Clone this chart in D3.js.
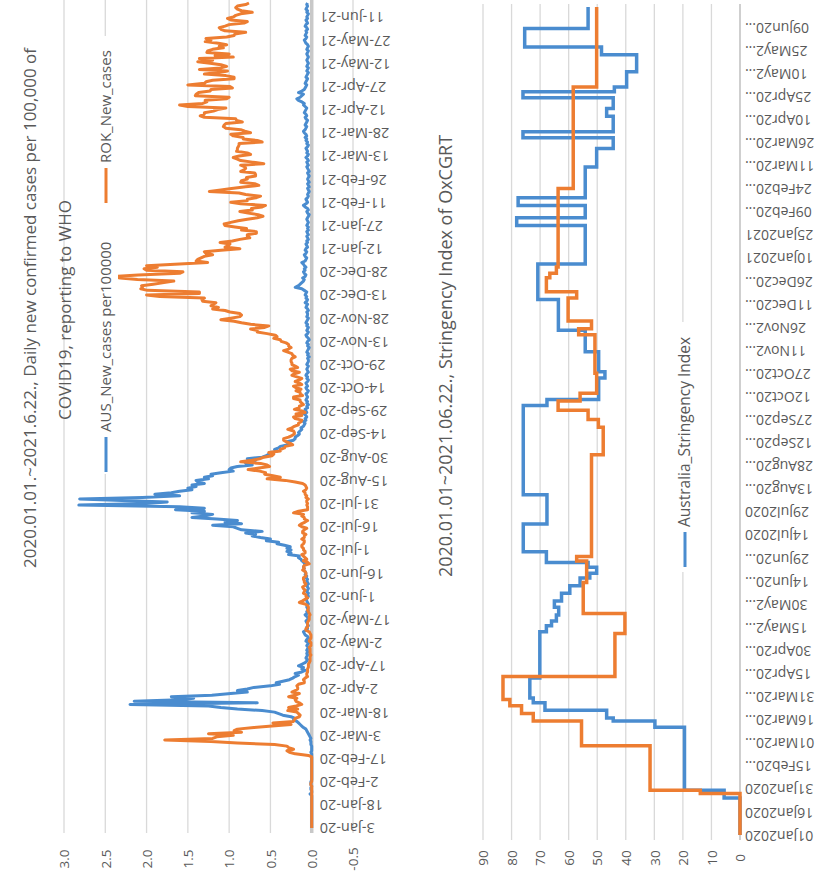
<!DOCTYPE html>
<html>
<head>
<meta charset="utf-8">
<script src="https://cdn.jsdelivr.net/npm/d3@7"></script>
<style>
body { margin: 0; background: #fff; }
text { font-family: "Open Sans", "Noto Sans", sans-serif; fill: #595959; }
</style>
</head>
<body>
<svg id="chart" width="835" height="880"></svg>
<script>
// Daily new cases per 100,000 (WHO), one value per day from 3-Jan-2020
var ausCases = [
  0,0,0,0,0,0,0,0,0,0, 0,0,0,0,0,0,0,0,0,0, 0,0,0.02,0,0,0.01,0.01,0,0.01,
  0.01,0.01,0,0,0,0,0,0,0,0, 0,0,0,0,0,0,0,0,0,0, 0.01,0,0,0,0,0.01,0.01,0.01,0.02,
  0.01,0.02,0.03,0.04,0.05,0.06,0.07,0.1,0.12,0.14, 0.16,0.18,0.22,0.2,0.25,0.35,0.4,0.45,0.6,0.9, 1.1,1.25,2.2,0.66,2.15,1.6,1.43,1.7,1.21,0.98, 0.78,
  0.9,0.78,0.7,0.5,0.39,0.43,0.35,0.27,0.23,0.2, 0.16,0.2,0.12,0.08,0.12,0.1,0.16,0.12,0.08,0.06, 0.05,0.07,0.06,0.05,0.06,0.04,0.06,0.05,0.04,0.06,
  0.05,0.03,0.07,0.06,0.04,0.05,0.08,0.09,0.1,0.07, 0.05,0.06,0.04,0.05,0.06,0.07,0.05,0.04,0.06,0.08, 0.05,0.06,0.04,0.05,0.06,0.05,0.04,0.05,0.06,0.07, 0.05,
  0.04,0.05,0.04,0.06,0.05,0.04,0.05,0.06,0.04,0.05, 0.06,0.05,0.07,0.06,0.08,0.07,0.08,0.1,0.09,0.1, 0.09,0.08,0.1,0.12,0.13,0.16,0.15,0.28,0.25,0.3,
  0.25,0.3,0.26,0.33,0.42,0.4,0.55,0.5,0.62,0.72, 0.68,0.8,0.6,0.85,0.9,0.95,1.2,0.85,1.05,0.9, 1.15,1.45,1.3,1.2,1.45,1.3,1.65,1.3,1.6,2.82, 2.0,
  1.75,2.3,2.81,2.05,1.6,1.9,1.7,1.6,1.45,1.5, 1.4,1.45,1.3,1.38,1.4,1.25,1.3,1.2,1.22,1.1, 0.95,1.0,0.98,0.9,0.72,0.8,0.75,0.68,0.78,0.6, 0.55,
  0.52,0.5,0.42,0.45,0.4,0.38,0.3,0.28,0.3,0.22, 0.2,0.2,0.17,0.15,0.16,0.14,0.12,0.13,0.1,0.09, 0.08,0.1,0.07,0.08,0.06,0.07,0.09,0.06,0.07,0.08,
  0.05,0.06,0.04,0.06,0.05,0.07,0.06,0.05,0.06,0.07, 0.05,0.04,0.06,0.07,0.05,0.06,0.07,0.05,0.04,0.06, 0.05,0.07,0.06,0.04,0.05,0.06,0.05,0.04,0.06,0.05, 0.04,
  0.04,0.05,0.03,0.05,0.04,0.06,0.05,0.04,0.03,0.05, 0.04,0.06,0.05,0.03,0.04,0.06,0.07,0.05,0.04,0.06, 0.05,0.04,0.06,0.05,0.07,0.06,0.05,0.04,0.06,0.05,
  0.05,0.06,0.04,0.05,0.07,0.06,0.05,0.08,0.06,0.05, 0.07,0.06,0.08,0.07,0.06,0.09,0.12,0.2,0.16,0.14, 0.12,0.1,0.09,0.11,0.08,0.07,0.09,0.1,0.08,0.09, 0.07,
  0.09,0.1,0.12,0.08,0.07,0.06,0.08,0.09,0.07,0.06, 0.08,0.07,0.05,0.06,0.07,0.05,0.06,0.04,0.05,0.06, 0.04,0.05,0.06,0.04,0.05,0.04,0.06,0.05,0.04,0.05, 0.06,
  0.05,0.04,0.03,0.05,0.06,0.04,0.05,0.08,0.1,0.07, 0.05,0.06,0.07,0.05,0.04,0.05,0.04,0.03,0.04,0.05, 0.03,0.04,0.05,0.03,0.04,0.05,0.04,0.03,
  0.04,0.05,0.03,0.04,0.05,0.06,0.04,0.05,0.06,0.04, 0.05,0.07,0.05,0.04,0.06,0.05,0.06,0.07,0.05,0.04, 0.06,0.05,0.07,0.06,0.08,0.06,0.07,0.09,0.1,0.08, 0.07,
  0.06,0.08,0.07,0.06,0.05,0.07,0.08,0.06,0.07,0.09, 0.08,0.07,0.06,0.08,0.1,0.09,0.12,0.16,0.18,0.14, 0.12,0.1,0.16,0.12,0.09,0.08,0.07,0.06,0.08,0.07,
  0.06,0.05,0.07,0.06,0.05,0.04,0.06,0.05,0.04,0.06, 0.05,0.04,0.05,0.06,0.05,0.04,0.05,0.06,0.05,0.04, 0.06,0.05,0.04,0.05,0.07,0.08,0.09,0.07,0.06,0.08, 0.07,
  0.06,0.07,0.05,0.06,0.08,0.07,0.05,0.06,0.07,0.05, 0.06,0.05,0.04,0.06,0.05,0.07,0.06,0.05,0.06,0.05
];
var rokCases = [
  0,0,0,0,0,0,0,0,0,0, 0,0,0,0,0,0,0,0,0,0, 0,0,0,0,0,0,0,0,0.01,
  0.01,0,0,0,0,0,0,0,0,0, 0,0,0,0,0,0,0,0,0.04,0.2, 0.27,0.3,0.22,0.28,0.3,0.45,0.9,1.22,1.78,
  1.2,1.15,0.95,1.25,0.85,0.94,0.9,0.7,0.48,0.25, 0.47,0.22,0.21,0.2,0.15,0.14,0.16,0.18,0.29,0.17, 0.28,0.19,0.12,0.15,0.19,0.2,0.18,0.28,0.2,0.15, 0.24,
  0.2,0.17,0.17,0.18,0.16,0.09,0.09,0.1,0.08,0.05, 0.06,0.06,0.05,0.05,0.05,0.04,0.04,0.04,0.03,0.02, 0.02,0.02,0.02,0.01,0.02,0.02,0.02,0.02,0.03,0.01,
  0.01,0.01,0.03,0.02,0.01,0.01,0.01,0.02,0.03,0.07, 0.07,0.05,0.05,0.05,0.05,0.04,0.03,0.03,0.03,0.02, 0.03,0.04,0.05,0.04,0.04,0.05,0.08,0.15,0.11,0.08, 0.05,
  0.07,0.07,0.1,0.09,0.08,0.1,0.11,0.08,0.07,0.09, 0.09,0.1,0.1,0.07,0.07,0.07,0.08,0.11,0.09,0.1, 0.09,0.03,0.05,0.1,0.06,0.08,0.1,0.12,0.08,0.08,
  0.1,0.1,0.12,0.12,0.1,0.09,0.09,0.12,0.09,0.09, 0.07,0.11,0.11,0.09,0.06,0.12,0.15,0.12,0.08,0.05, 0.09,0.09,0.12,0.1,0.22,0.16,0.05,0.05,0.05,0.06, 0.05,
  0.06,0.06,0.04,0.07,0.06,0.08,0.08,0.1,0.07,0.06, 0.07,0.08,0.11,0.2,0.32,0.54,0.38,0.47,0.57,0.56, 0.63,0.77,0.64,0.51,0.54,0.62,0.86,0.72,0.63,0.58, 0.48,
  0.46,0.52,0.38,0.38,0.33,0.32,0.23,0.26,0.31,0.34, 0.34,0.28,0.24,0.21,0.21,0.22,0.29,0.24,0.21,0.16, 0.16,0.13,0.12,0.2,0.22,0.12,0.19,0.08,0.12,0.21,
  0.15,0.15,0.1,0.12,0.14,0.14,0.22,0.22,0.11,0.14, 0.14,0.19,0.13,0.19,0.22,0.12,0.15,0.2,0.15,0.12, 0.18,0.24,0.21,0.15,0.24,0.26,0.17,0.2,0.24,0.24, 0.25,
  0.25,0.24,0.2,0.23,0.24,0.29,0.34,0.28,0.25,0.28, 0.28,0.31,0.37,0.38,0.46,0.42,0.44,0.54,0.66,0.66, 0.74,0.57,0.52,0.74,0.85,0.94,1.1,0.98,0.87,0.85,
  0.87,0.99,1.05,1.2,1.13,1.22,1.19,1.16,1.32,1.33, 1.3,1.84,2.0,1.36,1.36,1.99,2.07,2.05,2.06,1.92, 1.79,1.67,2.11,2.32,2.4,2.1,1.6,1.56,2.0,2.03, 1.87,
  2.0,1.6,1.26,1.4,1.38,1.34,1.3,1.2,1.28,1.3, 1.1,0.87,1.05,1.01,0.99,1.11,0.96,0.87,0.75,0.78, 0.78,0.67,0.67,0.85,0.79,0.93,1.05,1.06,0.98,0.89, 0.78,
  0.66,0.59,0.65,0.77,0.87,0.72,0.73,0.6,0.56,0.86, 0.98,0.78,0.78,0.67,0.62,0.8,0.88,1.24,1.1,0.97, 0.8,0.64,0.69,0.86,0.85,0.78,0.79,0.68,
  0.68,0.69,0.86,0.82,0.8,0.81,0.86,0.58,0.72,0.86, 0.9,0.95,0.88,0.74,0.78,0.91,0.9,0.9,0.89,0.88, 0.88,0.6,0.66,0.83,0.83,0.95,0.98,0.74,0.81,0.86, 1.04,
  1.07,1.06,1.04,0.84,0.91,0.92,1.3,1.35,1.3,1.3, 1.19,1.14,1.04,1.5,1.6,1.32,1.27,1.29,1.03,1.0, 1.41,1.4,1.37,1.23,1.22,0.96,0.99,1.5,1.3,1.28,
  1.2,0.94,0.94,1.04,1.3,1.12,1.02,1.36,1.1,1.03, 1.1,1.23,1.38,1.2,1.36,0.95,1.17,1.0,1.27,1.26, 1.2,1.07,1.12,1.03,1.13,1.29,1.22,1.28,1.03,0.94, 0.93,
  0.8,1.05,1.1,1.12,1.05,1.0,0.82,0.78,0.98,1.02, 0.95,0.92,0.86,0.72,0.85,0.9,0.92,0.9,0.8,0.76
];
var caseTicks = [-0.5, 0, 0.5, 1, 1.5, 2, 2.5, 3];

// OxCGRT stringency index: dates where the value changes
var ausStrDates = ["2020-01-01","2020-01-25","2020-01-30","2020-03-11","2020-03-15","2020-03-17","2020-03-22","2020-03-27",
  "2020-03-30","2020-04-12","2020-05-12","2020-05-16","2020-05-19","2020-05-23","2020-05-28","2020-06-01","2020-06-06",
  "2020-06-11","2020-06-16","2020-06-19","2020-06-23","2020-06-26","2020-07-03","2020-07-21","2020-08-09","2020-10-06",
  "2020-10-10","2020-10-24","2020-10-28","2020-11-10","2020-11-24","2020-12-14","2021-01-06","2021-01-31","2021-02-05",
  "2021-02-13","2021-02-18","2021-03-10","2021-03-22","2021-03-29","2021-04-02","2021-04-12","2021-04-17","2021-04-24",
  "2021-04-28","2021-05-01","2021-05-11","2021-05-22","2021-05-27","2021-06-08"];
var ausStrValues = [0,5.56,19.44,29.8,44.4,46.7,68.3,72.4,
  73.6,70.1,67.8,66,64.3,63.5,65,62.5,59.6,
  56,52.6,50.2,53.2,67.8,75.9,67.6,75.9,67.6,
  49.5,47.3,49.5,54.2,63.6,70.8,54.2,78.2,54.2,
  77.7,54.2,50.2,44.4,76,44.4,46.7,44.4,76,
  44,39.7,36.2,48.5,75.4,53.2];
var korStrDates = ["2020-01-01","2020-01-28","2020-01-30","2020-02-28","2020-03-15","2020-03-20","2020-03-25","2020-03-29",
  "2020-04-13","2020-05-11","2020-05-24","2020-06-13","2020-06-27","2020-06-30","2020-09-04","2020-09-22","2020-09-27",
  "2020-10-03","2020-10-09","2020-10-14","2020-10-27","2020-11-21","2020-11-25","2020-11-30","2020-12-15","2020-12-19",
  "2020-12-28","2020-12-31","2021-01-04","2021-02-24","2021-05-01"];
var korStrValues = [0,13.9,31.5,55.5,72.4,76.5,80.6,83,
  43.8,40.3,54.9,53.7,57.2,52,47.9,49.6,53.2,
  63.7,56,50.2,50.8,56.5,52,60.2,57.2,67.8,
  66.6,64.3,63.7,58.4,50.2];
var strEnd = "2021-06-22";
var strTicks = [0, 10, 20, 30, 40, 50, 60, 70, 80, 90];
var strTickLabels = ["01Jan2020","16Jan2020","31Jan2020","15Feb20...","01Mar20...","16Mar20...","31Mar20...","15Apr20...",
  "30Apr20...","15May2...","30May2...","14Jun20...","29Jun20...","14Jul2020","29Jul2020","13Aug20...","28Aug20...",
  "12Sep20...","27Sep20...","12Oct20...","27Oct20...","11Nov2...","26Nov2...","11Dec20...","26Dec20...","10Jan2021",
  "25Jan2021","09Feb20...","24Feb20...","11Mar20...","26Mar20...","10Apr20...","25Apr20...","10May2...","25May2...","09Jun20..."];

var blue = "#4a8ccf", orange = "#ed7d31", grid = "#d9d9d9";
var parse = d3.timeParse("%Y-%m-%d");
var svg = d3.select("#chart");

// ---------- left panel: daily new cases ----------
var caseStart = parse("2020-01-03");
var caseDates = ausCases.map(function(d, i) { return d3.timeDay.offset(caseStart, i); });
var caseTickDates = d3.range(36).map(function(k) { return d3.timeDay.offset(caseStart, 15 * k); });

var xC = d3.scaleLinear().domain([-0.5, 3]).range([353, 64]);
var yC = d3.scaleTime().domain([caseStart, caseDates[caseDates.length - 1]]).range([828, 3]);

var gL = svg.append("g");
gL.selectAll(".grid").data(caseTicks.filter(function(v) { return v !== 0; }))
  .enter().append("line").attr("class", "grid")
  .attr("x1", function(d) { return xC(d); }).attr("x2", function(d) { return xC(d); })
  .attr("y1", 0).attr("y2", 833)
  .attr("stroke", grid).attr("stroke-width", 1.3);
gL.append("line")
  .attr("x1", xC(0)).attr("x2", xC(0)).attr("y1", 0).attr("y2", 833)
  .attr("stroke", "#c8c8c8").attr("stroke-width", 3.5);

var lineC = function(vals) {
  return d3.line()
    .x(function(d) { return xC(d); })
    .y(function(d, i) { return yC(caseDates[i]); })(vals);
};
gL.append("path").attr("d", lineC(ausCases)).attr("fill", "none")
  .attr("stroke", blue).attr("stroke-width", 3).attr("stroke-linejoin", "round");
gL.append("path").attr("d", lineC(rokCases)).attr("fill", "none")
  .attr("stroke", orange).attr("stroke-width", 3).attr("stroke-linejoin", "round");

var axDates = gL.append("g").attr("transform", "translate(" + xC(0) + ",0)")
  .call(d3.axisRight(yC).tickValues(caseTickDates).tickFormat(d3.timeFormat("%-d-%b-%y")).tickSize(0));
axDates.select(".domain").remove();
axDates.attr("font-size", 14.5).attr("font-family", null);
axDates.selectAll("text").attr("x", -8).attr("dy", "0.35em")
  .attr("text-anchor", "end").attr("transform", "rotate(180)");

var axVals = gL.append("g").attr("transform", "translate(0,859)")
  .call(d3.axisBottom(xC).tickValues(caseTicks).tickFormat(function(d) { return d.toFixed(1); }).tickSize(0));
axVals.select(".domain").remove();
axVals.attr("font-size", 13.5).attr("font-family", null);
axVals.selectAll("text").attr("x", 0).attr("y", 0).attr("dy", "0.35em")
  .attr("text-anchor", "middle").attr("transform", "rotate(-90)");

gL.append("text").attr("transform", "translate(30,308) rotate(-90)")
  .attr("text-anchor", "middle").attr("dy", "0.35em").attr("font-size", 17)
  .text("2020.01.01.~2021.6.22., Daily new confirmed cases per 100,000 of");
gL.append("text").attr("transform", "translate(65,310) rotate(-90)")
  .attr("text-anchor", "middle").attr("dy", "0.35em").attr("font-size", 17)
  .text("COVID19, reporting to WHO");

// legend
gL.append("rect").attr("x", 94).attr("y", 36).attr("width", 24).attr("height", 438).attr("fill", "#fff");
var legL = [{name: "AUS_New_cases per100000", color: blue, y: 470},
            {name: "ROK_New_cases", color: orange, y: 201}];
var legItems = gL.selectAll(".leg").data(legL).enter().append("g").attr("class", "leg")
  .attr("transform", function(d) { return "translate(106," + d.y + ") rotate(-90)"; });
legItems.append("line").attr("x1", -2).attr("x2", 33).attr("y1", 0).attr("y2", 0)
  .attr("stroke", function(d) { return d.color; }).attr("stroke-width", 3);
legItems.append("text").attr("x", 38).attr("dy", "0.35em").attr("font-size", 15)
  .text(function(d) { return d.name; });

// ---------- right panel: stringency index ----------
var strStart = parse("2020-01-01");
var strStop = parse(strEnd);
var strTickDates = d3.range(36).map(function(k) { return d3.timeDay.offset(strStart, 15 * k); });

var xS = d3.scaleLinear().domain([0, 90]).range([740, 483]);
var yS = d3.scaleTime().domain([strStart, strStop]).range([835, 7]);

var gR = svg.append("g");
gR.selectAll(".grid").data(strTicks.filter(function(v) { return v !== 0; }))
  .enter().append("line").attr("class", "grid")
  .attr("x1", function(d) { return xS(d); }).attr("x2", function(d) { return xS(d); })
  .attr("y1", 4).attr("y2", 840)
  .attr("stroke", grid).attr("stroke-width", 1.3);
gR.append("line")
  .attr("x1", xS(0)).attr("x2", xS(0)).attr("y1", 4).attr("y2", 840)
  .attr("stroke", "#bfbfbf").attr("stroke-width", 1.5);

// value holds until the next change date (date runs along y, so move in y first)
var stepLine = d3.line()
  .x(function(d) { return xS(d[1]); })
  .y(function(d) { return yS(d[0]); })
  .curve(d3.curveStepBefore);
var stepPts = function(dates, vals) {
  var pts = dates.map(function(d, i) { return [parse(d), vals[i]]; });
  pts.push([strStop, vals[vals.length - 1]]);
  return pts;
};

gR.append("rect").attr("x", 673).attr("y", 322).attr("width", 24).attr("height", 250).attr("fill", "#fff");

gR.append("path").attr("d", stepLine(stepPts(ausStrDates, ausStrValues))).attr("fill", "none")
  .attr("stroke", blue).attr("stroke-width", 3.5);
gR.append("path").attr("d", stepLine(stepPts(korStrDates, korStrValues))).attr("fill", "none")
  .attr("stroke", orange).attr("stroke-width", 3.5);

var axSDates = gR.append("g").attr("transform", "translate(" + xS(0) + ",0)")
  .call(d3.axisRight(yS).tickValues(strTickDates)
    .tickFormat(function(d, i) { return strTickLabels[i]; }).tickSize(0));
axSDates.select(".domain").remove();
axSDates.attr("font-size", 14).attr("font-family", null);
axSDates.selectAll("text").attr("x", -5).attr("dy", "0.35em")
  .attr("text-anchor", "end").attr("transform", "rotate(180)");

var axSVals = gR.append("g").attr("transform", "translate(0,858)")
  .call(d3.axisBottom(xS).tickValues(strTicks).tickSize(0));
axSVals.select(".domain").remove();
axSVals.attr("font-size", 13.5).attr("font-family", null);
axSVals.selectAll("text").attr("x", 0).attr("y", 0).attr("dy", "0.35em")
  .attr("text-anchor", "middle").attr("transform", "rotate(-90)");

gR.append("text").attr("transform", "translate(446,356) rotate(-90)")
  .attr("text-anchor", "middle").attr("dy", "0.35em").attr("font-size", 18)
  .text("2020.01.01~2021.06.22., Stringency Index of OxCGRT");

var legR = gR.append("g").attr("transform", "translate(685,567) rotate(-90)");
legR.append("line").attr("x1", 0).attr("x2", 35).attr("y1", 0).attr("y2", 0)
  .attr("stroke", blue).attr("stroke-width", 3);
legR.append("text").attr("x", 40).attr("dy", "0.35em").attr("font-size", 15.5)
  .text("Australia_Stringency Index");
</script>
</body>
</html>
